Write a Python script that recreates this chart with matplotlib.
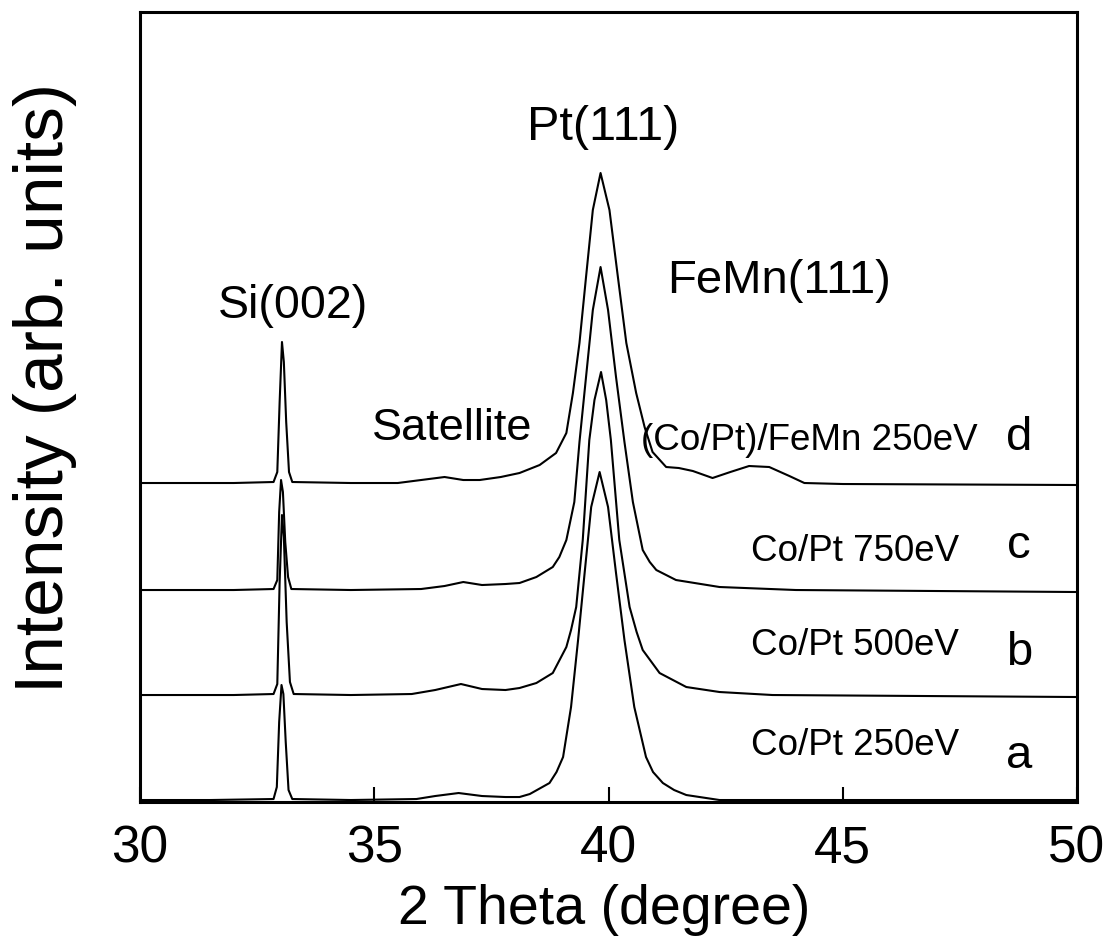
import matplotlib
matplotlib.use("Agg")
from matplotlib import pyplot as plt

# -- XRD curves (2theta in degree, intensity in arb. units)
a_x = [30.0, 31.5, 32.85, 32.92, 32.97, 33.02, 33.06, 33.11, 33.17, 33.25, 34.5, 35.9, 36.3, 36.8, 37.3,
       37.8, 38.10, 38.32, 38.74, 38.89, 39.03, 39.20, 39.35, 39.49, 39.63, 39.81, 39.99, 40.16, 40.34,
       40.55, 40.80, 40.95, 41.16, 41.4, 41.66, 42.37, 43.0, 50.0]
a_y = [2, 2, 3, 15, 80, 117, 108, 60, 12, 3, 2, 3, 6, 9, 6,
       5, 5, 8, 19, 30, 45, 95, 162, 229, 295, 330, 295, 229, 162,
       95, 45, 30, 19, 12, 7, 2, 2, 2]

b_x = [30.0, 32.0, 32.85, 32.93, 32.98, 33.03, 33.07, 33.13, 33.2, 33.28, 34.5, 35.8, 36.3, 36.85, 37.3,
       37.8, 38.10, 38.46, 38.81, 39.10, 39.20, 39.31, 39.45, 39.59, 39.70, 39.84, 39.95, 40.05, 40.23,
       40.45, 40.6, 40.73, 41.09, 41.66, 42.37, 43.5, 50.0]
b_y = [107, 107, 108, 118, 220, 287, 265, 180, 120, 108, 107, 108, 112, 118, 113,
       112, 114, 119, 129, 155, 172, 195, 262, 362, 402, 430, 402, 362, 262,
       195, 170, 152, 129, 115, 110, 107, 105]

c_x = [30.0, 32.0, 32.85, 32.93, 32.97, 33.01, 33.05, 33.1, 33.16, 33.23, 34.5, 36.0, 36.5, 36.9, 37.3,
       37.8, 38.10, 38.46, 38.81, 38.95, 39.10, 39.27, 39.38, 39.52, 39.665, 39.83, 39.99, 40.16, 40.34,
       40.52, 40.73, 40.88, 41.02, 41.44, 42.37, 44.0, 50.0]
c_y = [212, 212, 213, 222, 290, 322, 310, 260, 225, 213, 212, 213, 216, 220, 217,
       218, 219, 225, 235, 245, 262, 300, 360, 425, 492, 535, 492, 425, 360,
       300, 252, 240, 232, 222, 215, 212, 210]

d_x = [30.0, 32.0, 32.85, 32.93, 32.98, 33.03, 33.07, 33.12, 33.18, 33.25, 34.5, 35.5, 36.0, 36.5, 36.9,
       37.25, 37.7, 38.10, 38.53, 38.88, 39.10, 39.24, 39.38, 39.52, 39.665, 39.83, 40.02, 40.20, 40.38,
       40.59, 40.77, 40.94, 41.23, 41.5, 41.8, 42.22, 42.6, 43.0, 43.43, 43.86, 44.18, 45.0, 50.0]
d_y = [319, 319, 320, 330, 400, 460, 440, 380, 330, 320, 319, 319, 322, 325, 322,
       322, 325, 329, 337, 349, 369, 409, 459, 525, 592, 629, 592, 525, 459,
       409, 375, 350, 335, 334, 331, 324, 330, 336, 335, 326, 319, 318, 317]

samples = ['Co/Pt 250eV', 'Co/Pt 500eV', 'Co/Pt 750eV', '(Co/Pt)/FeMn 250eV']
sample_x = [43.05, 43.05, 43.05, 40.70]
sample_y = [47, 147, 241, 352]
letters = ['a', 'b', 'c', 'd']
letter_y = [34, 137, 244, 352]

font = ['Liberation Sans', 'DejaVu Sans']
plt.rcParams['font.family'] = font

fig = plt.figure(figsize=(11.06, 9.44), dpi=100)
ax = fig.add_axes([0.1266, 0.1504, 0.8472, 0.8369])

for xs, ys in [(a_x, a_y), (b_x, b_y), (c_x, c_y), (d_x, d_y)]:
    ax.plot(xs, ys, color='black', lw=1.5, solid_joinstyle='round')

ax.set_xlim(30, 50)
ax.set_ylim(0, 790)
ax.set_xticks([30, 35, 40, 45, 50])
ax.set_yticks([])
ax.tick_params(axis='x', direction='in', length=11, width=1.5, pad=16, labelsize=37)
for s in ax.spines.values():
    s.set_linewidth(2.2)

# axis titles
fig.text(604 / 1106, 1 - 924 / 944, '2 Theta (degree)', fontsize=40, ha='center', va='baseline')
fig.text(45 / 1106, 1 - 388 / 944, 'Intensity (arb. units)', fontsize=50, rotation=90,
         ha='center', va='center')

# peak labels
ax.text(39.89, 662, 'Pt(111)', fontsize=35, ha='center', va='baseline')
ax.text(41.26, 509, 'FeMn(111)', fontsize=34, ha='left', va='baseline')
ax.text(31.66, 484, 'Si(002)', fontsize=33.5, ha='left', va='baseline')
ax.text(34.95, 362, 'Satellite', fontsize=32.5, ha='left', va='baseline')

# sample labels
for name, sx, sy in zip(samples, sample_x, sample_y):
    ax.text(sx, sy, name, fontsize=26.5, ha='left', va='baseline')
for let, ly in zip(letters, letter_y):
    ax.text(48.76, ly, let, fontsize=34, ha='center', va='baseline')

fig.savefig('out.png', dpi=100)
